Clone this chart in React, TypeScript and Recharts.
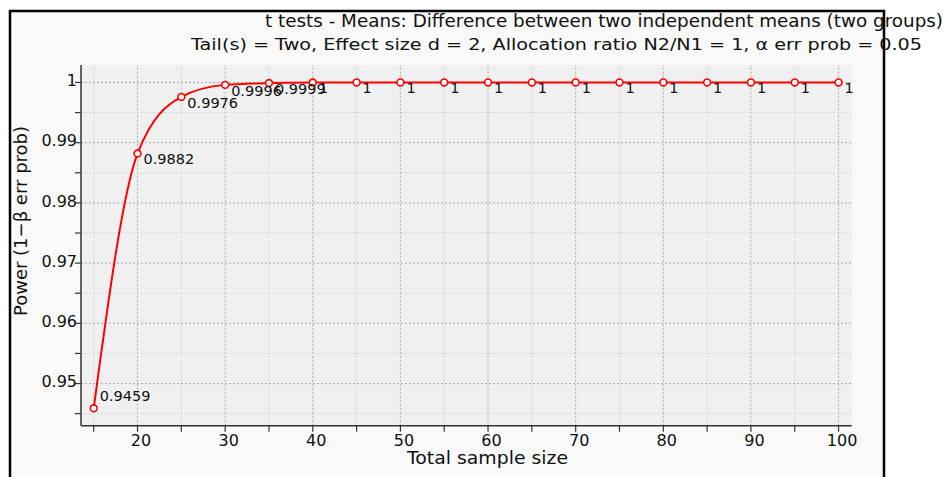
import React from 'react';
import { LineChart, Line, XAxis, YAxis, CartesianGrid, ReferenceLine, LabelList } from 'recharts';

const sampleSizes = [15, 20, 25, 30, 35, 40, 45, 50, 55, 60, 65, 70, 75, 80, 85, 90, 95, 100];
const powerValues = [0.9459, 0.9882, 0.9976, 0.9996, 0.9999, 0.99999, 1, 1, 1, 1, 1, 1, 1, 1, 1, 1, 1, 1];
const xTicks = [15, 20, 25, 30, 35, 40, 45, 50, 55, 60, 65, 70, 75, 80, 85, 90, 95, 100];
const yTicks = [0.945, 0.95, 0.955, 0.96, 0.965, 0.97, 0.975, 0.98, 0.985, 0.99, 0.995, 1.0];
const titleLine1 = 't tests - Means: Difference between two independent means (two groups)';
const titleLine2 = 'Tail(s) = Two, Effect size d = 2, Allocation ratio N2/N1 = 1, α err prob = 0.05';
const xLabel = 'Total sample size';
const yLabel = 'Power (1−β err prob)';

const data = sampleSizes.map((n, i) => ({ n, power: powerValues[i] }));

const FONT = '"DejaVu Sans", sans-serif';
const isMajorX = (v: number) => v % 10 === 0;
const isMajorY = (v: number) => Math.abs(Math.round(v * 100) - v * 100) < 1e-6;
const fmtVal = (v: number) => String(Number(v.toFixed(4)));

const PointLabel = (props: any) => {
  const { x, y, value, index } = props;
  const above = index === 0;
  return (
    <text x={x + 6} y={above ? y - 7.5 : y + 10.7} fontSize={14.5} fontFamily={FONT} fill="#111">
      {fmtVal(value)}
    </text>
  );
};

export default function App() {
  return (
    <div style={{ position: 'absolute', left: 0, top: 0, width: 948, height: 477, background: '#fff', overflow: 'hidden' }}>
      <svg width={948} height={477} style={{ position: 'absolute', left: 0, top: 0 }}>
        <rect x={10} y={11} width={874} height={500} fill="#f9f9f9" stroke="#000" strokeWidth={2.5} />
        <text x={265} y={27} fontSize={17} fontFamily={FONT} fill="#111" textLength={678} lengthAdjust="spacingAndGlyphs">{titleLine1}</text>
        <text x={191} y={50} fontSize={16} fontFamily={FONT} fill="#111" textLength={731} lengthAdjust="spacingAndGlyphs">{titleLine2}</text>
        <text x={407} y={464} fontSize={17} fontFamily={FONT} fill="#111" textLength={161} lengthAdjust="spacingAndGlyphs">{xLabel}</text>
        <text x={0} y={0} fontSize={18} fontFamily={FONT} fill="#111" textAnchor="middle" transform="translate(27,221) rotate(-90)">{yLabel}</text>
      </svg>
      <div style={{ position: 'absolute', left: 0, top: 0 }}>
        <LineChart width={948} height={477} data={data} margin={{ top: 65, right: 96.3, bottom: 21.3, left: 21 }}>
          <CartesianGrid fill="#f0f0f0" stroke="none" horizontal={false} vertical={false} />
          {xTicks.map((v) => (
            <ReferenceLine key={'vx' + v} x={v} stroke={isMajorX(v) ? '#aaaaaa' : '#d4d4d4'} strokeDasharray="2 2" strokeWidth={1} ifOverflow="hidden" />
          ))}
          {yTicks.map((v) => (
            <ReferenceLine key={'hy' + v} y={v} stroke={isMajorY(v) ? '#aaaaaa' : '#d4d4d4'} strokeDasharray="2 2" strokeWidth={1} ifOverflow="hidden" />
          ))}
          <XAxis
            type="number"
            dataKey="n"
            domain={[13.55, 101.5]}
            ticks={xTicks}
            allowDataOverflow
            height={30}
            tickSize={6}
            tickMargin={3}
            interval={0}
            tickFormatter={(v: number) => (isMajorX(v) ? String(v) : '')}
            tick={{ fontSize: 16, fontFamily: FONT, fill: '#111', dx: 3.5 }}
            axisLine={{ stroke: '#333', strokeWidth: 1.5 }}
            tickLine={{ stroke: '#333', strokeWidth: 1.2 }}
          />
          <YAxis
            type="number"
            domain={[0.943, 1.0029]}
            ticks={yTicks}
            allowDataOverflow
            width={60}
            tickSize={6}
            tickMargin={0}
            interval={0}
            tickFormatter={(v: number) => (isMajorY(v) ? String(Number(v.toFixed(3))) : '')}
            tick={{ fontSize: 16, fontFamily: FONT, fill: '#111', dx: 2, dy: -2 }}
            axisLine={{ stroke: '#333', strokeWidth: 1.5 }}
            tickLine={{ stroke: '#333', strokeWidth: 1.2 }}
          />
          <Line
            type="monotone"
            dataKey="power"
            stroke="#ff0000"
            strokeWidth={2}
            dot={{ r: 3.4, stroke: '#ff0000', strokeWidth: 1.6, fill: '#ffffff' }}
            activeDot={false}
            isAnimationActive={false}
          >
            <LabelList dataKey="power" content={<PointLabel />} />
          </Line>
        </LineChart>
      </div>
    </div>
  );
}
